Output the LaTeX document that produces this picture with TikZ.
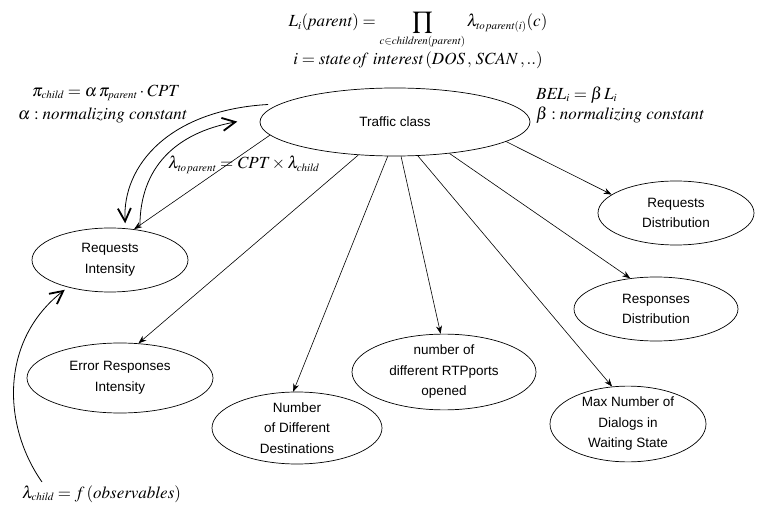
\documentclass[tikz,border=0pt]{standalone}
\usepackage{mathptmx}
\usepackage{fontspec}
\setsansfont{Liberation Sans}
\setmainfont{Liberation Serif}
\usetikzlibrary{shapes.geometric,arrows.meta}
\DeclareMathSizes{17}{17}{11}{9}
\tikzset{
  ell/.style={ellipse,draw,line width=0.7pt,inner sep=0pt,align=center,
    font=\sffamily\fontsize{13.5}{20.5}\selectfont},
  link/.style={line width=0.6pt,-{Stealth[length=8pt,width=6pt]}},
  flow/.style={line width=0.8pt,-{Straight Barb[length=13pt,width=13pt,line width=1.8pt]}},
  eq/.style={inner sep=0pt,font=\fontsize{17}{20}\selectfont}
}
\begin{document}
\begin{tikzpicture}[x=1pt,y=-1pt]
\useasboundingbox (0,0) rectangle (760,510);
% nodes
\node[ell,minimum width=270,minimum height=68] (tc) at (395,122) {Traffic class};
\node[ell,minimum width=156,minimum height=64] (ri) at (110,260) {Requests\\Intensity};
\node[ell,minimum width=186,minimum height=70] (eri) at (120,378) {Error Responses\\Intensity};
\node[ell,minimum width=170,minimum height=66] (ndd) at (297,428) {Number\\of Different\\Destinations};
\node[ell,minimum width=184,minimum height=72] (rtp) at (444,372) {number of\\different RTPports\\opened};
\node[ell,minimum width=156,minimum height=72] (mnd) at (628,424) {Max Number of\\Dialogs in\\Waiting State};
\node[ell,minimum width=164,minimum height=64] (rsd) at (656,309) {Responses\\Distribution};
\node[ell,minimum width=156,minimum height=64] (rqd) at (676,213) {Requests\\Distribution};
% links
\draw[link] (tc.186) -- (ri.52);
\draw[link] (tc.222) -- (eri.62);
\draw[link] (tc.258) -- (ndd.96);
\draw[link] (tc.280) -- (rtp.95);
\draw[link] (tc.304) -- (mnd.113);
\draw[link] (tc.330) -- (rsd.130);
\draw[link] (tc.350) -- (rqd.164);
% curved message arrows
\coordinate (obs) at (42,482);
\draw[flow,shorten <=12pt,shorten >=5pt] (tc.171) .. controls (170,110) and (122,165) .. (ri.64);
\draw[flow,shorten <=4pt,shorten >=24pt] (ri.45) .. controls (140,168) and (175,133) .. (tc.178);
\draw[flow,shorten >=4pt] (obs) .. controls (2,425) and (0,340) .. (ri.213);
% equations
\node[eq,anchor=base] (e1) at (418,27) {$L_i(\mathit{parent}) = \displaystyle\prod_{c\in \mathit{children}(\mathit{parent})} \lambda_{\mathit{to\,parent}(i)}(c)$};
\node[eq] (e2) at (418,60) {$i = \mathit{state\,of\ interest}\,(\mathit{DOS}\,,\,\mathit{SCAN}\,,..)$};
\node[eq,anchor=west] (e3) at (32,93) {$\pi_{\mathit{child}} = \alpha\,\pi_{\mathit{parent}}\cdot \mathit{CPT}$};
\node[eq,anchor=west] (e4) at (18,115) {$\alpha : \mathit{normalizing\ constant}$};
\node[eq,anchor=west] (e5) at (536,95) {$\mathit{BEL}_i = \beta\,L_i$};
\node[eq,anchor=west] (e6) at (536,115) {$\beta : \mathit{normalizing\ constant}$};
\node[eq,anchor=west] (e7) at (168,165) {$\lambda_{\mathit{to\,parent}} = \mathit{CPT}\times\lambda_{\mathit{child}}$};
\node[eq,anchor=west] (e8) at (22,494) {$\lambda_{\mathit{child}} = f\,(\mathit{observables})$};
\end{tikzpicture}
\end{document}
